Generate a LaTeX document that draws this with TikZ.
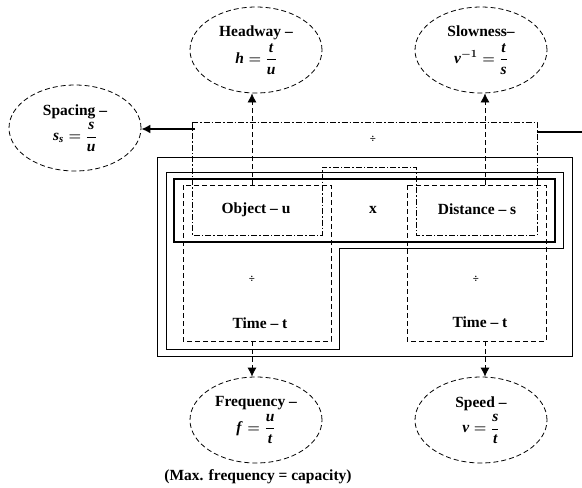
\documentclass[tikz,border=0pt]{standalone}
\usepackage{amsmath}
\usepackage{fontspec}
\setmainfont{Liberation Serif}
\usetikzlibrary{arrows.meta,shapes.geometric}

\newcommand{\mv}[1]{\textbf{\textit{#1}}}

\tikzset{
  qty/.style={draw, dash pattern=on 5pt off 3pt, ellipse, minimum width=132pt, minimum height=86pt, align=center, inner sep=0pt},
  dashdot/.style={dash pattern=on 6pt off 2pt on 1.5pt off 2pt},
  flow/.style={dash pattern=on 5pt off 3pt, thick, -{Latex[length=9pt,width=9pt]}},
  opsign/.style={font=\fontsize{11}{13}\selectfont\bfseries}
}

\begin{document}
\begin{tikzpicture}[x=1pt, y=-1pt, line width=0.8pt, font=\fontsize{15.5}{19}\selectfont\bfseries\boldmath]
\useasboundingbox (0,0) rectangle (582,488);

% quantities
\node[qty] (spacing) at (75,128) {Spacing --\\[3pt] $\mv{s}_{\mv{s}}=\dfrac{\mv{s}}{\mv{u}}$};
\node[qty] (headway) at (256,50) {Headway --\\[3pt] $\mv{h}=\dfrac{\mv{t}}{\mv{u}}$};
\node[qty] (slowness) at (481,50) {Slowness--\\[6pt] $\mv{v}^{-1}=\dfrac{\mv{t}}{\mv{s}}$};
\node[qty] (frequency) at (256,420) {Frequency --\\[3pt] $\mv{f}=\dfrac{\mv{u}}{\mv{t}}$};
\node[qty] (speed) at (481,420) {Speed --\\[3pt] $\mv{v}=\dfrac{\mv{s}}{\mv{t}}$};
\node (note) at (258,477) {(Max. frequency = capacity)};

% frame and bands
\draw (157,157) rectangle (572,356);
\draw (166,172) -- (563,172) -- (563,248) -- (339,248) -- (339,349) -- (166,349) -- cycle;
\draw[line width=1.3pt] (174,179) rectangle (555,242);
\draw[dash pattern=on 5pt off 3pt] (183,185) rectangle (331,341);
\draw[dash pattern=on 5pt off 3pt] (407,185) rectangle (546,341);
\draw[dashdot] (192,122) -- (537,122) -- (537,235) -- (416,235) -- (416,167)
  -- (322,167) -- (322,235) -- (192,235) -- cycle;

% labels in the boxes
\node[opsign] (div-top) at (373,139) {÷};
\node (object) at (256,210) {Object -- u};
\node (times) at (373,210) {x};
\node (distance) at (477,209) {Distance -- s};
\node[opsign] (div-left) at (252,279) {÷};
\node (time-left) at (260,323) {Time -- t};
\node[opsign] (div-right) at (476,279) {÷};
\node (time-right) at (480,322) {Time -- t};

% connectors
\coordinate (hw-foot) at (252,185);
\coordinate (sl-foot) at (485,185);
\coordinate (fq-foot) at (252,341);
\coordinate (sp-foot) at (485,341);
\coordinate (ss-foot) at (195,129);
\coordinate (ss-right) at (537,132);
\coordinate (edge-right) at (582,132);

\draw[flow] (hw-foot) -- (hw-foot |- headway.south);
\draw[flow] (sl-foot) -- (sl-foot |- slowness.south);
\draw[flow] (fq-foot) -- (fq-foot |- frequency.north);
\draw[flow] (sp-foot) -- (sp-foot |- speed.north);
\draw[line width=1.6pt, -{Latex[length=9pt,width=9pt]}] (ss-foot) -- (ss-foot -| spacing.east);
\draw[line width=1.6pt] (ss-right) -- (edge-right);
\end{tikzpicture}
\end{document}
